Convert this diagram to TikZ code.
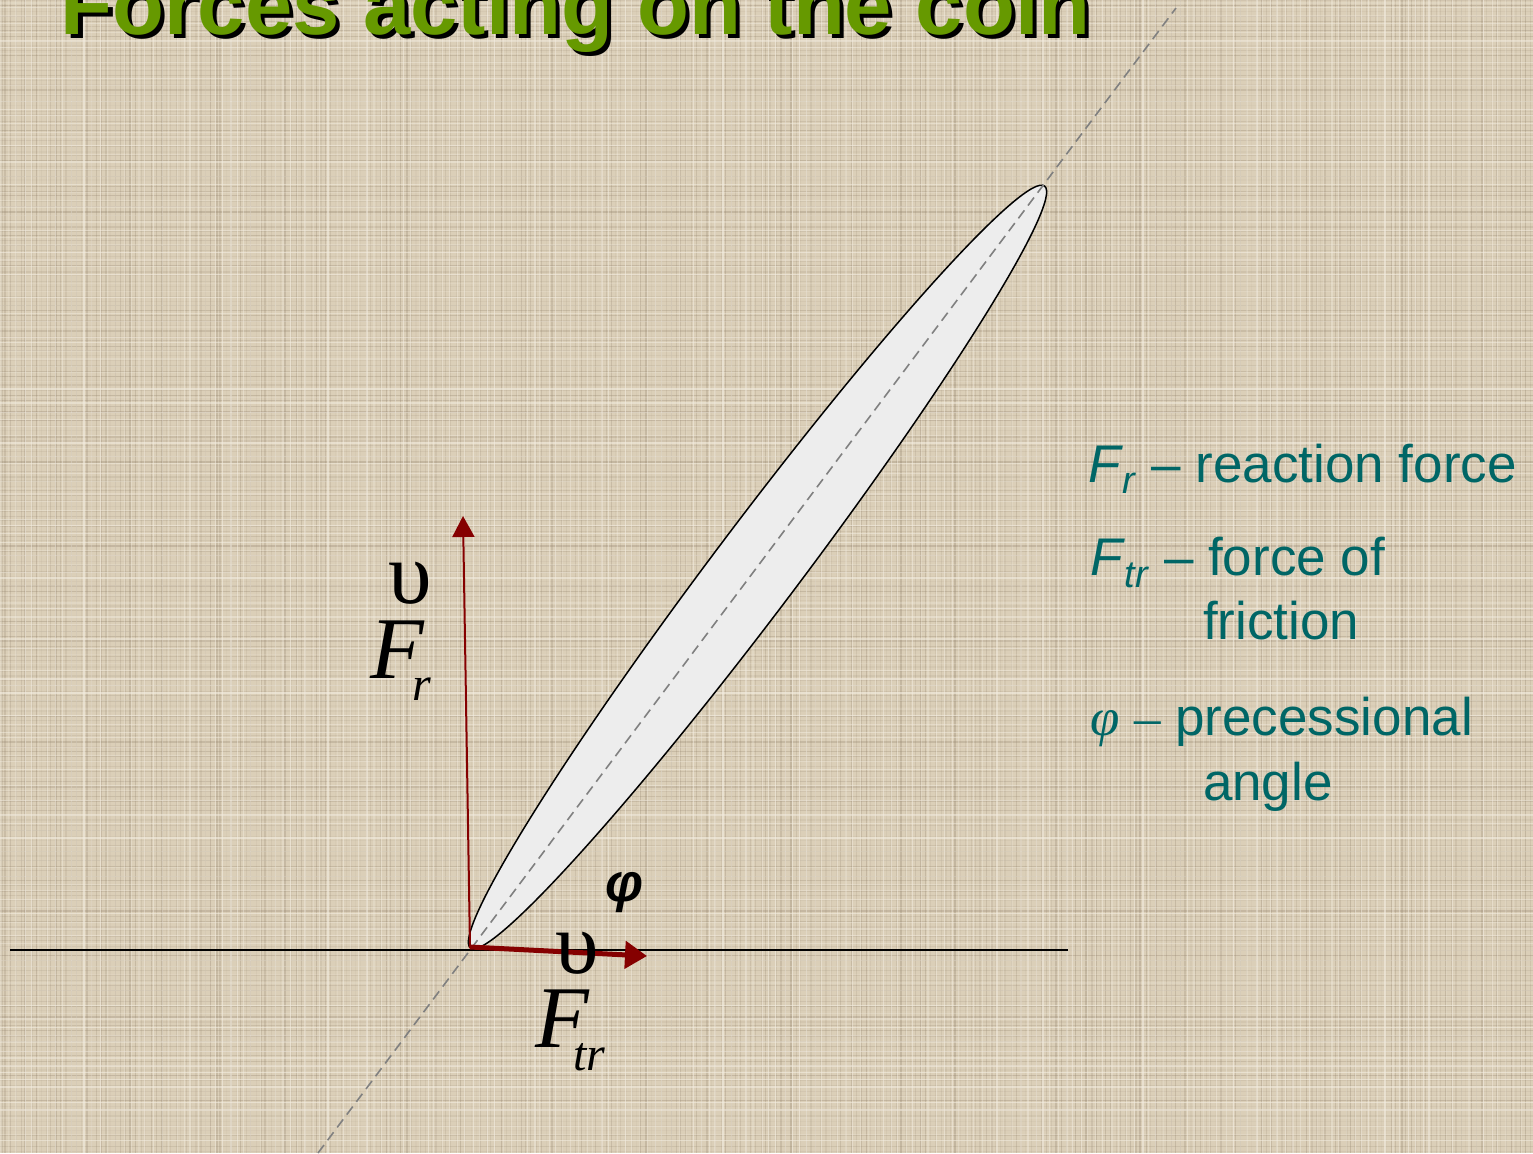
\documentclass[tikz,border=0pt]{standalone}
\usepackage{fontspec}
\setmainfont{Liberation Sans}
\newfontfamily\serifF{Liberation Serif}
\usetikzlibrary{arrows.meta,shapes.geometric}
\definecolor{bgcol}{HTML}{DBCFB8}
\definecolor{texdark}{HTML}{968670}
\definecolor{texlight}{HTML}{F4EEE2}
\definecolor{titlegreen}{HTML}{669900}
\definecolor{legendteal}{HTML}{006666}
\definecolor{forcered}{HTML}{850000}
\definecolor{coinfill}{HTML}{EDEDED}
\definecolor{axisgray}{HTML}{808080}
\tikzset{
  lbl/.style={anchor=base west, inner sep=0pt, outer sep=0pt},
  titletext/.style={lbl, font=\fontsize{42.5}{50}\selectfont\bfseries},
  legend/.style={lbl, text=legendteal, font=\fontsize{26.5}{31}\selectfont},
  vecsym/.style={lbl, font=\serifF\fontsize{44}{50}\selectfont},
  vecF/.style={lbl, font=\serifF\itshape\fontsize{44}{50}\selectfont},
  vecsub/.style={lbl, font=\serifF\itshape\fontsize{24}{28}\selectfont},
  coinshape/.style={draw=black, line width=0.75pt, fill=coinfill, ellipse, inner sep=0pt,
    minimum width=477pt, minimum height=43pt, rotate=53},
  axisline/.style={draw=axisgray, line width=0.8pt, dash pattern=on 5pt off 3pt},
  groundline/.style={draw=black, line width=1pt},
  reactarrow/.style={draw=forcered, line width=1pt, -{Triangle[length=10.5pt, width=11pt]}},
  fricarrow/.style={draw=forcered, line width=2.5pt, -{Triangle[length=11pt, width=13.5pt]}},
}
\begin{document}
\begin{tikzpicture}[x=0.5pt, y=-0.5pt]
\useasboundingbox (0,0) rectangle (1533,1153);
\clip (0,0) rectangle (1533,1153);
% canvas background
\fill[bgcol] (0,0) rectangle (1533,1153);
\pgfmathsetseed{42}
\foreach \k in {0,...,230}{
  \pgfmathsetmacro{\yy}{\k*5+2*rnd}
  \pgfmathsetmacro{\op}{0.04+0.3*rnd}
  \draw[texdark, line width=0.6pt, opacity=\op] (0,\yy) -- (1533,\yy);
}
\foreach \k in {0,...,306}{
  \pgfmathsetmacro{\xx}{\k*5+2*rnd}
  \pgfmathsetmacro{\op}{0.04+0.3*rnd}
  \draw[texdark, line width=0.6pt, opacity=\op] (\xx,0) -- (\xx,1153);
}
\foreach \k in {0,...,150}{
  \pgfmathsetmacro{\yy}{\k*7.6+3*rnd}
  \pgfmathsetmacro{\op}{0.15+0.45*rnd}
  \draw[texlight, line width=0.6pt, opacity=\op] (0,\yy) -- (1533,\yy);
}
\foreach \k in {0,...,200}{
  \pgfmathsetmacro{\xx}{\k*7.6+3*rnd}
  \pgfmathsetmacro{\op}{0.15+0.45*rnd}
  \draw[texlight, line width=0.6pt, opacity=\op] (\xx,0) -- (\xx,1153);
}

% title
\node[titletext, text=black] (titleshadow) at (65,38) {Forces acting on the coin};
\node[titletext, text=titlegreen] (title) at (61,34) {Forces acting on the coin};

% geometry
\coordinate (O) at (470,948);
\coordinate (axisLow) at (318,1153);
\coordinate (axisHigh) at (1176,8);
\coordinate (groundL) at (10,950);
\coordinate (groundR) at (1068,950);
\coordinate (FrTip) at (463,516);
\coordinate (FtrStart) at (470,947);
\coordinate (FtrTip) at (647,956);

\node[coinshape] (coin) at (757.5,567) {};
\draw[axisline] (axisLow) -- (axisHigh);
\draw[groundline] (groundL) -- (groundR);
\draw[reactarrow] (O) -- (FrTip);
\draw[fricarrow] (FtrStart) -- (FtrTip);

% vector labels
\node[vecsym] (FrVec) at (388,603) {υ};
\node[vecF] (FrF) at (370,678) {F};
\node[vecsub] (FrSub) at (412,700) {r};
\node[vecsym] (FtrVec) at (555,973) {υ};
\node[vecF] (FtrF) at (535,1047) {F};
\node[vecsub] (FtrSub) at (573,1070) {tr};

% angle label
\node[lbl, font=\fontsize{27}{30}\selectfont\bfseries\itshape] (phi) at (605,901) {φ};

% legend
\node[legend] (leg1) at (1088,482) {\textit{F}\raisebox{-5.5pt}{\fontsize{19}{20}\selectfont\textit{r}} – reaction force};
\node[legend] (leg2) at (1090,575) {\textit{F}\raisebox{-6pt}{\fontsize{19}{20}\selectfont\textit{tr}} – force of};
\node[legend] (leg2b) at (1203,639) {friction};
\node[legend] (leg3) at (1090,735) {{\serifF\itshape φ} {\serifF –} precessional};
\node[legend] (leg3b) at (1203,800) {angle};
\end{tikzpicture}
\end{document}
